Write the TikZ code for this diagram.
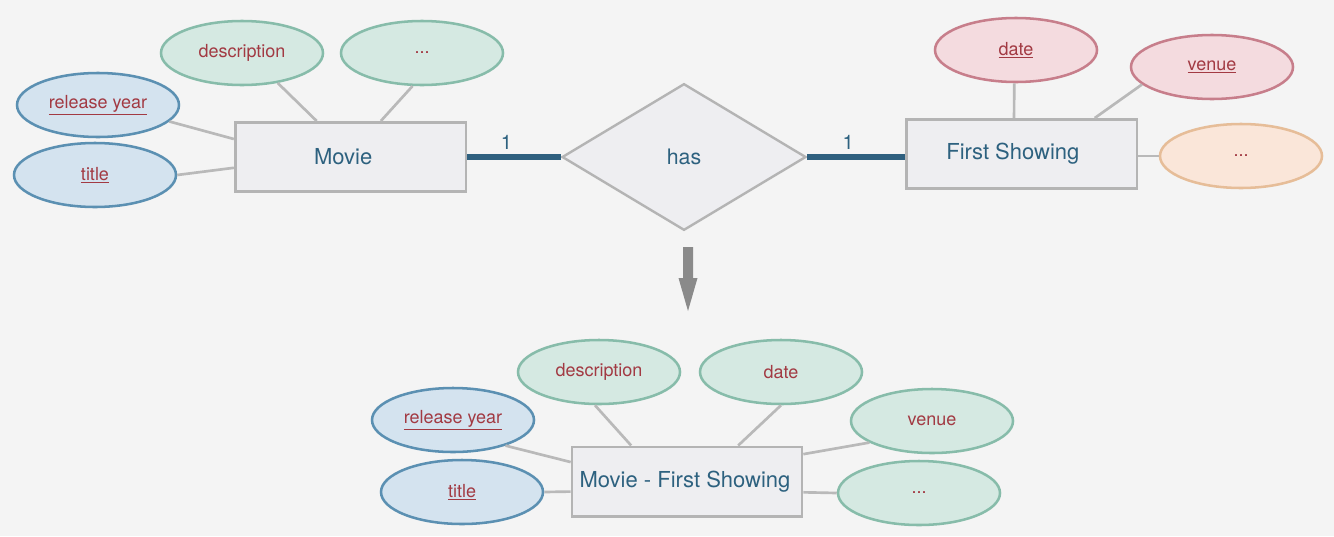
\documentclass[tikz,border=0pt]{standalone}
\usepackage{fontspec}
\setmainfont{TeX Gyre Heros}
\usetikzlibrary{shapes.geometric,calc}
\definecolor{bgc}{HTML}{F4F4F4}
\definecolor{boxfill}{HTML}{EEEEF1}
\definecolor{boxdraw}{HTML}{B4B4B4}
\definecolor{bluefill}{HTML}{D4E3EF}
\definecolor{bluedraw}{HTML}{5B90B2}
\definecolor{greenfill}{HTML}{D5E9E2}
\definecolor{greendraw}{HTML}{87BCAA}
\definecolor{pinkfill}{HTML}{F4DBDF}
\definecolor{pinkdraw}{HTML}{C77E8B}
\definecolor{orangefill}{HTML}{FAE6D9}
\definecolor{orangedraw}{HTML}{E6BD98}
\definecolor{attrtext}{HTML}{A23A43}
\definecolor{enttext}{HTML}{2D617F}
\definecolor{relline}{HTML}{2F607F}
\definecolor{conn}{HTML}{B9B9B9}
\definecolor{arrowc}{HTML}{8A8A8A}
\tikzset{
  attr/.style={ellipse, inner sep=0pt, minimum width=121.5pt, minimum height=48pt, line width=1.9pt,
    text=attrtext, font=\fontsize{13.5}{15}\selectfont},
  keyblue/.style={attr, fill=bluefill, draw=bluedraw},
  plaingreen/.style={attr, fill=greenfill, draw=greendraw},
  keypink/.style={attr, fill=pinkfill, draw=pinkdraw},
  plainorange/.style={attr, fill=orangefill, draw=orangedraw},
  entity/.style={rectangle, fill=boxfill, draw=boxdraw, line width=2pt, inner sep=0pt,
    minimum width=173pt, minimum height=52pt, text=enttext, font=\fontsize{16.5}{19}\selectfont},
  relship/.style={diamond, fill=boxfill, draw=boxdraw, line width=1.8pt, inner sep=0pt,
    minimum width=183pt, minimum height=110pt, text=enttext, font=\fontsize{16}{19}\selectfont},
  link/.style={draw=conn, line width=2pt},
  rellink/.style={draw=relline, line width=3.8pt},
  card/.style={text=enttext, font=\fontsize{15}{18}\selectfont, inner sep=0pt},
}
\begin{document}
\begin{tikzpicture}[x=0.75pt, y=-0.75pt]
\fill[bgc] (0,0) rectangle (1334,536);
\useasboundingbox (0,0) rectangle (1334,536);

% ---------- top: Movie ----------
\node[entity] (movie) at (350.5,157) {Movie\hspace*{11pt}};
\node[keyblue] (ry1) at (98,105) {\underline{release year}};
\node[keyblue] (ti1) at (95,175) {\underline{title}};
\node[plaingreen] (de1) at (242,53) {description};
\node[plaingreen] (do1) at (422,53) {...};

\draw[link] (ry1.347) -- ($(movie.north west)!0.25!(movie.south west)$);
\draw[link] (ti1.0) -- ($(movie.north west)!0.65!(movie.south west)$);
\draw[link] (de1.320) -- ($(movie.north west)!0.355!(movie.north east)$);
\draw[link] (do1.254) -- ($(movie.north west)!0.63!(movie.north east)$);

% ---------- relationship ----------
\node[relship] (has) at (684,157) {has};

% ---------- top: First Showing ----------
\node[entity] (fs) at (1021.5,154) {First Showing\hspace*{13pt}};
\node[keypink] (da1) at (1016,50) {\underline{date}};
\node[keypink] (ve1) at (1212,67) {\underline{venue}};
\node[plainorange] (do2) at (1241,156) {...};

\draw[link] (da1.267) -- ($(fs.north west)!0.468!(fs.north east)$);
\draw[link] (ve1.194) -- ($(fs.north west)!0.814!(fs.north east)$);
\draw[link] (do2.180) -- (do2.180 -| fs.east);

\draw[rellink] (movie.east) -- node[card, pos=0.42, above=3.5pt] (c1) {1} (has.west);
\draw[rellink] (has.east) -- node[card, pos=0.42, above=3.5pt] (c2) {1} (has.east -| fs.west);

% ---------- arrow ----------
\fill[arrowc] (683,247) -- (693,247) -- (693,278) -- (697.5,278) -- (688,311) -- (678.5,278) -- (683,278) -- cycle;

% ---------- bottom: merged ----------
\node[entity, minimum width=172.5pt] (mfs) at (687,481.5) {Movie - First Showing\hspace*{3pt}};
\node[keyblue] (ry2) at (453,420) {\underline{release year}};
\node[keyblue] (ti2) at (462,492) {\underline{title}};
\node[plaingreen] (de2) at (599,372) {description};
\node[plaingreen] (da2) at (781,372) {date};
\node[plaingreen] (ve2) at (932,421) {venue};
\node[plaingreen] (do3) at (919,493) {...};

\draw[link] (ry2.334) -- ($(mfs.north west)!0.23!(mfs.south west)$);
\draw[link] (ti2.0) -- ($(mfs.north west)!0.64!(mfs.south west)$);
\draw[link] (de2.263) -- ($(mfs.north west)!0.26!(mfs.north east)$);
\draw[link] (da2.270) -- ($(mfs.north west)!0.72!(mfs.north east)$);
\draw[link] (ve2.199) -- ($(mfs.north east)!0.12!(mfs.south east)$);
\draw[link] (do3.180) -- ($(mfs.north east)!0.65!(mfs.south east)$);
\end{tikzpicture}
\end{document}
